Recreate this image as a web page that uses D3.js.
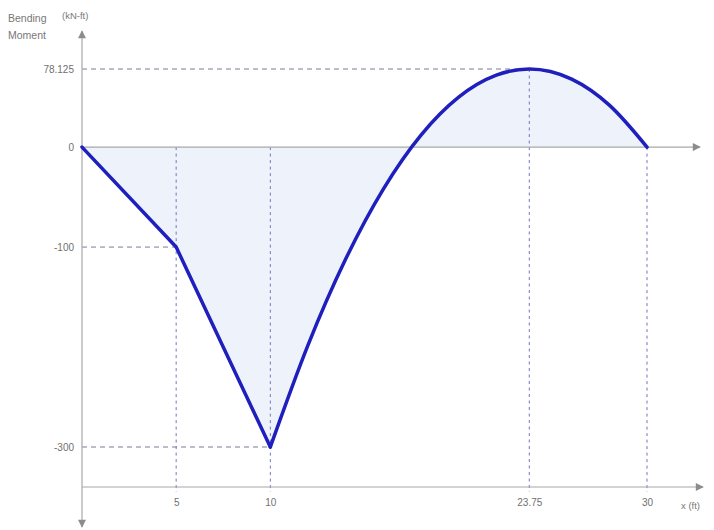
<!DOCTYPE html>
<html>
<head>
<meta charset="utf-8">
<script src="https://cdn.jsdelivr.net/npm/d3@7"></script>
<style>
  body { margin: 0; background: #fff; }
  text { font-family: "Liberation Sans", Arial, sans-serif; }
</style>
</head>
<body>
<div id="chart"></div>
<script>
// bending moment diagram data (kN-ft vs ft)
var straightX = [0, 5, 10];
var straightM = [0, -100, -300];
var curveX = [10, 12, 14, 16, 18, 20, 22, 23.75, 26, 28, 30];
var curveM = [-300, -198, -112, -42, 12, 50, 72, 78.125, 68, 42, 0];

// marked points and their tick labels
var yTicks = [78.125, 0, -100, -300];
var yTickLabels = ["78.125", "0", "-100", "-300"];
var xTicks = [5, 10, 23.75, 30];
var xTickLabels = ["5", "10", "23.75", "30"];

// horizontal guides: value and where they stop on x
var hGuideM = [78.125, -100, -300];
var hGuideX = [23.75, 5, 10];

var svgWidth = 714;
var svgHeight = 530;

var svg = d3.select("#chart")
  .append("svg")
  .attr("width", svgWidth)
  .attr("height", svgHeight);

var xScale = d3.scaleLinear().domain([0, 30]).range([82, 647]);
var yScale = d3.scaleLinear().domain([78.125, -300]).range([69, 447]);

var bottomM = -340;
var axisColor = "#a8a8a8";
var lineColor = "#1f1fbd";

// arrow marker
var defs = svg.append("defs");
defs.append("marker")
  .attr("id", "arrow")
  .attr("viewBox", "0 0 10 10")
  .attr("refX", 9)
  .attr("refY", 5)
  .attr("markerWidth", 9)
  .attr("markerHeight", 8)
  .attr("markerUnits", "userSpaceOnUse")
  .attr("orient", "auto")
  .append("path")
  .attr("d", "M0,0 L10,5 L0,10 Z")
  .attr("fill", "#8c8c8c");

// build the full outline of the diagram
var pts = straightX.map((x, i) => ({ x: x, m: straightM[i] }));
var curvePts = curveX.map((x, i) => ({ x: x, m: curveM[i] }));

// filled area between the curve and zero
var areaLinear = d3.area()
  .x(d => xScale(d.x))
  .y0(yScale(0))
  .y1(d => yScale(d.m));
var areaCurve = d3.area()
  .curve(d3.curveMonotoneX)
  .x(d => xScale(d.x))
  .y0(yScale(0))
  .y1(d => yScale(d.m));

svg.append("path")
  .datum(pts)
  .attr("d", areaLinear)
  .attr("fill", "#eef3fb");
svg.append("path")
  .datum(curvePts)
  .attr("d", areaCurve)
  .attr("fill", "#eef3fb");

// horizontal dashed guides
svg.selectAll(".hguide")
  .data(hGuideM)
  .enter()
  .append("line")
  .attr("class", "hguide")
  .attr("x1", xScale(0))
  .attr("x2", (d, i) => xScale(hGuideX[i]))
  .attr("y1", d => yScale(d))
  .attr("y2", d => yScale(d))
  .attr("stroke", "#7d7d95")
  .attr("stroke-width", 1)
  .attr("stroke-dasharray", "5,4");

// vertical dashed guides, from the curve top (or zero) down to the bottom axis
function guideTop(x) {
  var i = curveX.indexOf(x);
  return (i >= 0 && curveM[i] > 0) ? curveM[i] : 0;
}

svg.selectAll(".vguide")
  .data(xTicks)
  .enter()
  .append("line")
  .attr("class", "vguide")
  .attr("x1", d => xScale(d))
  .attr("x2", d => xScale(d))
  .attr("y1", d => yScale(guideTop(d)))
  .attr("y2", yScale(bottomM) + 5)
  .attr("stroke", "#7275c4")
  .attr("stroke-width", 1)
  .attr("stroke-dasharray", "3,3.5");

// axes lines with arrows
svg.append("line")
  .attr("x1", xScale(0)).attr("x2", 700)
  .attr("y1", yScale(0)).attr("y2", yScale(0))
  .attr("stroke", axisColor).attr("stroke-width", 1.2)
  .attr("marker-end", "url(#arrow)");

svg.append("line")
  .attr("x1", xScale(0)).attr("x2", 703)
  .attr("y1", yScale(bottomM)).attr("y2", yScale(bottomM))
  .attr("stroke", axisColor).attr("stroke-width", 1.2)
  .attr("marker-end", "url(#arrow)");

svg.append("line")
  .attr("x1", xScale(0)).attr("x2", xScale(0))
  .attr("y1", yScale(bottomM)).attr("y2", 31)
  .attr("stroke", axisColor).attr("stroke-width", 1.2)
  .attr("marker-end", "url(#arrow)");

svg.append("line")
  .attr("x1", xScale(0)).attr("x2", xScale(0))
  .attr("y1", yScale(bottomM)).attr("y2", 527)
  .attr("stroke", axisColor).attr("stroke-width", 1.2)
  .attr("marker-end", "url(#arrow)");

// the bending moment line
var lineLinear = d3.line()
  .x(d => xScale(d.x))
  .y(d => yScale(d.m));
var lineCurve = d3.line()
  .curve(d3.curveMonotoneX)
  .x(d => xScale(d.x))
  .y(d => yScale(d.m));

[[pts, lineLinear], [curvePts, lineCurve]].forEach(p => {
  svg.append("path")
    .datum(p[0])
    .attr("d", p[1])
    .attr("fill", "none")
    .attr("stroke", lineColor)
    .attr("stroke-width", 3.5)
    .attr("stroke-linejoin", "round")
    .attr("stroke-linecap", "round");
});

// tick labels via d3 axes
var leftAxis = d3.axisLeft(yScale)
  .tickValues(yTicks)
  .tickSize(0)
  .tickPadding(8)
  .tickFormat((d, i) => yTickLabels[i]);

var yAxisG = svg.append("g")
  .attr("transform", `translate(${xScale(0)}, 0)`)
  .call(leftAxis);

var bottomAxis = d3.axisBottom(xScale)
  .tickValues(xTicks)
  .tickSize(0)
  .tickPadding(12)
  .tickFormat((d, i) => xTickLabels[i]);

var xAxisG = svg.append("g")
  .attr("transform", `translate(0, ${yScale(bottomM)})`)
  .call(bottomAxis);

[yAxisG, xAxisG].forEach(g => {
  g.select(".domain").remove();
  g.selectAll("text")
    .attr("fill", "#707070")
    .style("font-size", "10px");
});

// axis titles
svg.append("text")
  .attr("x", 8).attr("y", 22)
  .attr("fill", "#777")
  .style("font-size", "10.5px")
  .text("Bending");
svg.append("text")
  .attr("x", 8).attr("y", 39)
  .attr("fill", "#777")
  .style("font-size", "10.5px")
  .text("Moment");
svg.append("text")
  .attr("x", 62).attr("y", 19)
  .attr("fill", "#777")
  .style("font-size", "9.5px")
  .text("(kN-ft)");
svg.append("text")
  .attr("x", 681).attr("y", yScale(bottomM) + 22)
  .attr("fill", "#777")
  .style("font-size", "9.5px")
  .text("x  (ft)");
</script>
</body>
</html>
